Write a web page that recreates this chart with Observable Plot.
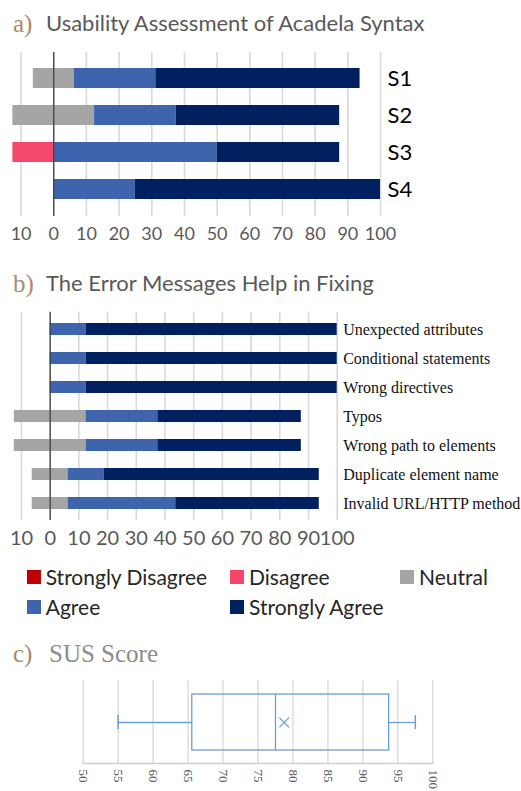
<!DOCTYPE html>
<html><head><meta charset="utf-8">
<script src="https://cdn.jsdelivr.net/npm/d3@7"></script>
<script src="https://cdn.jsdelivr.net/npm/@observablehq/plot@0.6"></script>
<style>
body{margin:0;background:#fff;font-family:Lato,sans-serif;}
#root{position:relative;width:521px;height:791px;overflow:hidden;background:#fff;}
.abs{position:absolute;}
.title{font-family:Lato,sans-serif;font-size:22px;line-height:1;color:#595959;white-space:nowrap;}
.lab{font-family:"Liberation Serif",serif;font-size:25px;line-height:1;color:#a88a6c;white-space:nowrap;}
.leg{display:flex;align-items:center;height:22px;font-size:21px;color:#262626;white-space:nowrap;}
.sw{width:14px;height:14px;margin-right:5px;display:inline-block;}
</style></head><body><div id="root"></div>
<script>
// Likert levels and colours
const levels = ["Strongly Disagree","Disagree","Neutral","Agree","Strongly Agree"];
const colors = ["#c00000","#f4476b","#a5a5a5","#3d64ad","#002060"];

// Panel a
const aItems = ["S1","S2","S3","S4"];
const aSD = [0,0,0,0];
const aD  = [0,0,12.5,0];
const aN  = [12.5,25,0,0];
const aA  = [25,25,50,25];
const aSA = [62.5,50,37.5,75];

// Panel b
const bItems = ["Unexpected attributes","Conditional statements","Wrong directives","Typos","Wrong path to elements","Duplicate element name","Invalid URL/HTTP method"];
const bSD = [0,0,0,0,0,0,0];
const bD  = [0,0,0,0,0,0,0];
const bN  = [0,0,0,25,25,12.5,12.5];
const bA  = [12.5,12.5,12.5,25,25,12.5,37.5];
const bSA = [87.5,87.5,87.5,50,50,75,50];

const likertTicks = [-10,0,10,20,30,40,50,60,70,80,90,100];

// Panel c (SUS score box plot summary)
const susMin = 55, susQ1 = 65.6, susMedian = 77.5, susQ3 = 93.75, susMax = 97.5, susMean = 78.75;
const susTicks = [50,55,60,65,70,75,80,85,90,95,100];

function segments(items, SD, D, N, A, SA) {
  const out = [];
  items.forEach((item, i) => {
    const vals = [SD[i], D[i], N[i], A[i], SA[i]];
    let x = -(SD[i] + D[i] + N[i] / 2);
    vals.forEach((v, j) => { if (v > 0) out.push({item, level: levels[j], x1: x, x2: x + v}); x += v; });
  });
  return out;
}

const root = document.getElementById("root");
function place(el, left, top) { el.classList.add("abs"); el.style.left = left + "px"; el.style.top = top + "px"; root.appendChild(el); return el; }
function div(cls, html) { const d = document.createElement("div"); d.className = cls; d.innerHTML = html; return d; }

// Titles
place(div("lab", "a)"), 13, 11);
place(div("title", "Usability Assessment of Acadela Syntax"), 46, 12);
place(div("lab", "b)"), 13, 271);
place(div("title", "The Error Messages Help in Fixing"), 46, 272);
place(div("lab", "c)"), 13, 641);
place(div("lab", "<span style='color:#8c8c8c'>SUS Score</span>"), 49, 641);

// Panel a
const pa = Plot.plot({
  width: 521, height: 210, marginTop: 12, marginBottom: 34, marginLeft: 12.4, marginRight: 141,
  style: {fontFamily: "Lato, sans-serif", background: "transparent", overflow: "visible"},
  x: {domain: [-12.5, 100]},
  y: {domain: aItems, paddingInner: 0.45, paddingOuter: 0.4},
  color: {domain: levels, range: colors},
  marks: [
    Plot.ruleX(likertTicks, {stroke: "#d9d9d9", strokeWidth: 1.6}),
    Plot.barX(segments(aItems, aSD, aD, aN, aA, aSA), {x1: "x1", x2: "x2", y: "item", fill: "level"}),
    Plot.ruleX([0], {stroke: "#404040", strokeWidth: 1.3}),
    Plot.axisY({anchor: "right", tickSize: 0, tickPadding: 7, fontSize: 22, fill: "#000", label: null}),
    Plot.axisX({ticks: likertTicks, tickFormat: d => Math.abs(d), tickSize: 0, tickPadding: 11, fontSize: 18, fill: "#595959", label: null})
  ]
});
place(pa, 0, 40);

// Panel b
const pb = Plot.plot({
  width: 521, height: 252, marginTop: 11.7, marginBottom: 32, marginLeft: 13.8, marginRight: 184.3,
  style: {fontFamily: "Lato, sans-serif", background: "transparent", overflow: "visible"},
  x: {domain: [-12.5, 100]},
  y: {domain: bItems, paddingInner: 0.6, paddingOuter: 0.32},
  color: {domain: levels, range: colors},
  marks: [
    Plot.ruleX(likertTicks, {stroke: "#d9d9d9", strokeWidth: 1.6}),
    Plot.barX(segments(bItems, bSD, bD, bN, bA, bSA), {x1: "x1", x2: "x2", y: "item", fill: "level"}),
    Plot.ruleX([0], {stroke: "#404040", strokeWidth: 1.3}),
    Plot.axisY({anchor: "right", tickSize: 0, tickPadding: 6, fontSize: 16, fontFamily: "Liberation Serif, serif", fill: "#111", label: null}),
    Plot.axisX({ticks: likertTicks, tickFormat: d => Math.abs(d), tickSize: 0, tickPadding: 10, fontSize: 20, fill: "#595959", label: null})
  ]
});
place(pb, 0, 300);

// Legend
const legendPos = [[26.7, 565.7], [230, 565.7], [400, 565.7], [26.7, 595.7], [230, 595.7]];
levels.forEach((lv, i) => {
  const d = div("leg", `<span class="sw" style="background:${colors[i]}"></span>${lv}`);
  place(d, legendPos[i][0], legendPos[i][1]);
});

// Panel c
const boxBlue = "#6a9fd8";
const pc = Plot.plot({
  width: 521, height: 121, marginTop: 10, marginBottom: 28, marginLeft: 82.7, marginRight: 88.7,
  style: {fontFamily: "Liberation Serif, serif", background: "transparent", overflow: "visible"},
  x: {domain: [50, 100]},
  y: {domain: ["SUS"], padding: 0.194, axis: null},
  marks: [
    Plot.ruleX(susTicks, {stroke: "#d9d9d9", strokeWidth: 1.3}),
    Plot.frame({anchor: "bottom", stroke: "#d0d0d0", strokeWidth: 1.3}),
    Plot.ruleY([{lo: susMin, hi: susQ1}, {lo: susQ3, hi: susMax}], {y: () => "SUS", x1: "lo", x2: "hi", stroke: boxBlue, strokeWidth: 1.3}),
    Plot.tickX([susMin, susMax], {x: d => d, y: () => "SUS", insetTop: 21, insetBottom: 21, stroke: boxBlue, strokeWidth: 1.5}),
    Plot.barX([{lo: susQ1, hi: susQ3}], {x1: "lo", x2: "hi", y: () => "SUS", fill: "none", stroke: boxBlue, strokeWidth: 1.3}),
    Plot.tickX([susMedian], {x: d => d, y: () => "SUS", stroke: boxBlue, strokeWidth: 1.3}),
    Plot.dot([susMean], {x: d => d, y: () => "SUS", symbol: "times", r: 4.5, stroke: boxBlue, strokeWidth: 1.3}),
    Plot.axisX({ticks: susTicks, tickRotate: 90, tickSize: 0, tickPadding: 6, fontSize: 13, fontFamily: "Liberation Serif, serif", fill: "#595959", label: null})
  ]
});
place(pc, 0, 670);
</script></body></html>
